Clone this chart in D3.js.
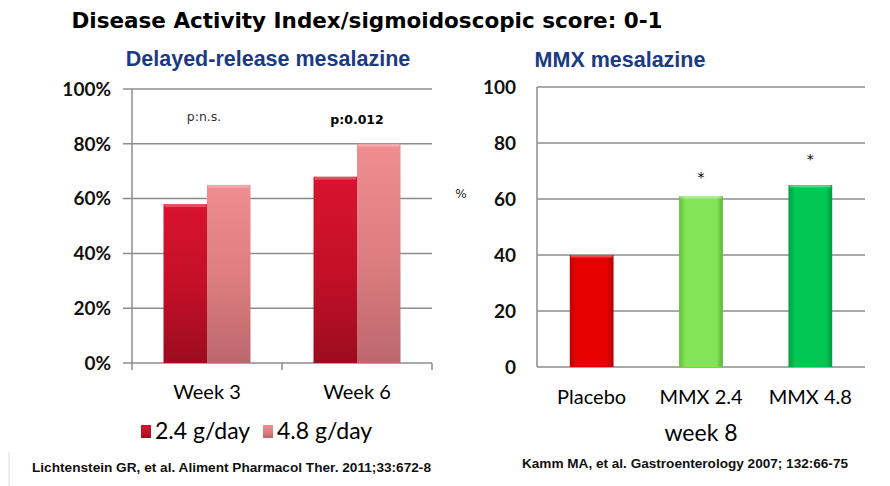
<!DOCTYPE html>
<html><head><meta charset="utf-8">
<script src="https://cdn.jsdelivr.net/npm/d3@7"></script>
<style>body{margin:0;background:#fff}svg{display:block}</style>
</head><body>
<svg id="c" width="890" height="486"></svg>
<script>
// ---- data ----
const weeks = ["Week 3", "Week 6"];
const doses = ["2.4 g/day", "4.8 g/day"];
const dose24 = [0.58, 0.68];
const dose48 = [0.65, 0.80];
const pLabels = ["p:n.s.", "p:0.012"];
const leftTicks = [0, 0.2, 0.4, 0.6, 0.8, 1.0];

const mmxCats = ["Placebo", "MMX 2.4", "MMX 4.8"];
const mmxValues = [40, 61, 65];
const mmxStars = ["", "*", "*"];
const rightTicks = [0, 20, 40, 60, 80, 100];

const svg = d3.select("#c");
const F = "Lato, 'Open Sans', sans-serif";

// gradients
const defs = svg.append("defs");
function grad(id, stops, x2, y2) {
  const g = defs.append("linearGradient").attr("id", id)
    .attr("x1", 0).attr("y1", 0).attr("x2", x2).attr("y2", y2);
  stops.forEach(s => g.append("stop").attr("offset", s[0]).attr("stop-color", s[1]));
}
grad("gDark", [[0, "#d8132f"], [0.5, "#c41028"], [1, "#9c0c1f"]], 0, 1);
grad("gLight", [[0, "#ef8d90"], [0.5, "#de7e82"], [1, "#bc676c"]], 0, 1);
grad("gRed", [[0, "#c00000"], [0.15, "#e60000"], [0.85, "#e60000"], [1, "#b00000"]], 1, 0);
grad("gLGreen", [[0, "#5ec03a"], [0.15, "#84e457"], [0.85, "#84e457"], [1, "#5ab636"]], 1, 0);
grad("gGreen", [[0, "#00a040"], [0.15, "#00c853"], [0.85, "#00c853"], [1, "#009c3e"]], 1, 0);
const darkFill = ["url(#gDark)", "url(#gLight)"];
const mmxFill = ["url(#gRed)", "url(#gLGreen)", "url(#gGreen)"];

// title
svg.append("text").attr("x", 367).attr("y", 20).attr("dy", "0.36em")
  .attr("text-anchor", "middle").attr("font-family", "'DejaVu Sans', Verdana, sans-serif")
  .attr("font-weight", "bold").attr("font-size", 21.5).attr("fill", "#000")
  .text("Disease Activity Index/sigmoidoscopic score: 0-1");

// subtitles
svg.append("text").attr("x", 268).attr("y", 58).attr("dy", "0.36em")
  .attr("text-anchor", "middle").attr("font-family", "'Liberation Sans', Arial, sans-serif")
  .attr("font-weight", "bold").attr("font-size", 21.5).attr("fill", "#1b3a84")
  .text("Delayed-release mesalazine");
svg.append("text").attr("x", 620).attr("y", 59).attr("dy", "0.36em")
  .attr("text-anchor", "middle").attr("font-family", "'Liberation Sans', Arial, sans-serif")
  .attr("font-weight", "bold").attr("font-size", 21.5).attr("fill", "#1b3a84")
  .text("MMX mesalazine");

// ---------- left chart ----------
const yL = d3.scaleLinear().domain([0, 1]).range([363, 89]);
const x0 = d3.scaleBand().domain(weeks).range([132, 432]).paddingInner(0.42).paddingOuter(0.21);
const x1 = d3.scaleBand().domain(doses).range([0, x0.bandwidth()]);

const L = svg.append("g");
L.selectAll("line.grid").data(leftTicks).join("line")
  .attr("x1", 123).attr("x2", 432)
  .attr("y1", d => yL(d)).attr("y2", d => yL(d))
  .attr("stroke", "#8c8c8c").attr("stroke-width", 1.5);
L.append("line").attr("x1", 132).attr("x2", 132).attr("y1", yL(1)).attr("y2", yL(0) + 7)
  .attr("stroke", "#8c8c8c").attr("stroke-width", 1.5);
const sepX = weeks.map(w => x0(w) + x0.bandwidth() / 2 + x0.step() / 2);
L.selectAll("line.sep").data(sepX).join("line")
  .attr("x1", d => d).attr("x2", d => d).attr("y1", yL(0)).attr("y2", yL(0) + 7)
  .attr("stroke", "#8c8c8c").attr("stroke-width", 1.5);
L.selectAll("text.yl").data(leftTicks).join("text")
  .attr("x", 111).attr("y", d => yL(d)).attr("dy", "0.36em")
  .attr("text-anchor", "end").attr("font-family", F).attr("font-weight", "bold")
  .attr("font-size", 19).attr("fill", "#111")
  .text(d => d3.format(".0%")(d));
const series = [dose24, dose48];
series.forEach((vals, si) => {
  L.selectAll("rect.s" + si).data(vals).join("rect")
    .attr("x", (d, i) => x0(weeks[i]) + x1(doses[si]))
    .attr("y", d => yL(d)).attr("width", x1.bandwidth())
    .attr("height", d => yL(0) - yL(d))
    .attr("fill", darkFill[si]);
  L.selectAll("rect.h" + si).data(vals).join("rect")
    .attr("x", (d, i) => x0(weeks[i]) + x1(doses[si]) + 1)
    .attr("y", d => yL(d)).attr("width", x1.bandwidth() - 2).attr("height", 3)
    .attr("fill", "#fff").attr("opacity", 0.25);
});
L.selectAll("text.p").data(pLabels).join("text")
  .attr("x", (d, i) => x0(weeks[i]) + x0.bandwidth() / 2 + (i === 0 ? -3 : 0))
  .attr("y", (d, i) => i === 0 ? 116 : 119).attr("dy", "0.36em")
  .attr("text-anchor", "middle").attr("font-family", "'DejaVu Sans', Verdana, sans-serif")
  .attr("font-weight", (d, i) => i === 1 ? "bold" : "normal")
  .attr("font-size", 12.5).attr("fill", (d, i) => i === 1 ? "#000" : "#333")
  .text(d => d);
L.selectAll("text.xl").data(weeks).join("text")
  .attr("x", d => x0(d) + x0.bandwidth() / 2).attr("y", 392).attr("dy", "0.36em")
  .attr("text-anchor", "middle").attr("font-family", F).attr("font-size", 20).attr("fill", "#000")
  .text(d => d);
const legX = [141, 263];
doses.forEach((d, i) => {
  L.append("rect").attr("x", legX[i]).attr("y", 425).attr("width", 10).attr("height", 13)
    .attr("fill", darkFill[i]);
  L.append("text").attr("x", legX[i] + 14).attr("y", 431).attr("dy", "0.36em")
    .attr("font-family", F).attr("font-size", 23).attr("fill", "#000").text(d);
});

// ---------- right chart ----------
const yR = d3.scaleLinear().domain([0, 100]).range([367, 87]);
const xR = d3.scaleBand().domain(mmxCats).range([537, 865]).paddingInner(0.6).paddingOuter(0.3);
const R = svg.append("g");
R.selectAll("line.grid").data(rightTicks).join("line")
  .attr("x1", 537).attr("x2", 865)
  .attr("y1", d => yR(d)).attr("y2", d => yR(d))
  .attr("stroke", "#8c8c8c").attr("stroke-width", 1.5);
R.append("line").attr("x1", 537).attr("x2", 537).attr("y1", yR(100)).attr("y2", yR(0))
  .attr("stroke", "#8c8c8c").attr("stroke-width", 1.5);
R.selectAll("text.yl").data(rightTicks).join("text")
  .attr("x", 516).attr("y", d => yR(d)).attr("dy", "0.36em")
  .attr("text-anchor", "end").attr("font-family", F).attr("font-weight", "bold")
  .attr("font-size", 19).attr("fill", "#111").text(d => d);
R.append("text").attr("x", 461).attr("y", 194).attr("dy", "0.36em")
  .attr("text-anchor", "middle").attr("font-family", "'DejaVu Sans', Verdana, sans-serif")
  .attr("font-size", 12).attr("fill", "#222").text("%");
R.selectAll("rect.bar").data(mmxValues).join("rect")
  .attr("x", (d, i) => xR(mmxCats[i])).attr("y", d => yR(d))
  .attr("width", xR.bandwidth()).attr("height", d => yR(0) - yR(d))
  .attr("fill", (d, i) => mmxFill[i]);
R.selectAll("rect.hl").data(mmxValues).join("rect")
  .attr("x", (d, i) => xR(mmxCats[i]) + 1).attr("y", d => yR(d))
  .attr("width", xR.bandwidth() - 2).attr("height", 2.5)
  .attr("fill", "#fff").attr("opacity", 0.3);
R.selectAll("text.star").data(mmxValues).join("text")
  .attr("x", (d, i) => xR(mmxCats[i]) + xR.bandwidth() / 2)
  .attr("y", (d, i) => yR(d) - (i === 2 ? 29 : 23)).attr("dy", "0.6em")
  .attr("text-anchor", "middle").attr("font-family", "'DejaVu Sans', sans-serif")
  .attr("font-size", 14).attr("fill", "#000").text((d, i) => mmxStars[i]);
R.selectAll("text.xl").data(mmxCats).join("text")
  .attr("x", d => xR(d) + xR.bandwidth() / 2).attr("y", 397).attr("dy", "0.36em")
  .attr("text-anchor", "middle").attr("font-family", F).attr("font-size", 20).attr("fill", "#000")
  .text(d => d);
R.append("text").attr("x", 701).attr("y", 433).attr("dy", "0.36em")
  .attr("text-anchor", "middle").attr("font-family", F).attr("font-size", 23).attr("fill", "#000")
  .text("week 8");

// citations
svg.append("text").attr("x", 32).attr("y", 467).attr("dy", "0.36em")
  .attr("font-family", "'Liberation Sans Narrow', 'Liberation Sans', Arial, sans-serif")
  .attr("font-weight", "bold").attr("font-size", 12.5).attr("fill", "#111")
  .attr("textLength", 399).attr("lengthAdjust", "spacingAndGlyphs")
  .text("Lichtenstein GR, et al. Aliment Pharmacol Ther. 2011;33:672-8");
svg.append("text").attr("x", 522).attr("y", 463).attr("dy", "0.36em")
  .attr("font-family", "'Liberation Sans Narrow', 'Liberation Sans', Arial, sans-serif")
  .attr("font-weight", "bold").attr("font-size", 12.5).attr("fill", "#111")
  .attr("textLength", 326).attr("lengthAdjust", "spacingAndGlyphs")
  .text("Kamm MA, et al. Gastroenterology 2007; 132:66-75");
svg.append("line").attr("x1", 9).attr("x2", 9).attr("y1", 452).attr("y2", 486)
  .attr("stroke", "#ddd").attr("stroke-width", 1);
</script>
</body></html>
